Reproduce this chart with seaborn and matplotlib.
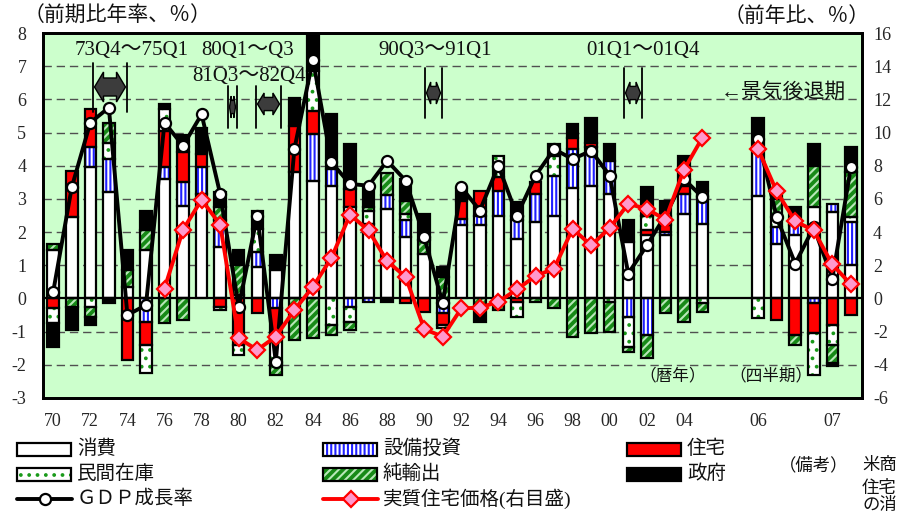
import numpy as np
import pandas as pd
import matplotlib
matplotlib.use("Agg")
import matplotlib.pyplot as plt
from matplotlib.patches import Rectangle, Polygon
import seaborn as sns

# ---------------------------------------------------------------- data
# annual 1970-2005, then quarterly 2006Q1-2007Q2 (after a two-slot gap)
periods = [str(y) for y in range(1970, 2006)] + [
    "2006Q1", "2006Q2", "2006Q3", "2006Q4", "2007Q1", "2007Q2"]
slot = list(range(36)) + list(range(38, 44))

# contributions to real GDP growth (% points, annualised)
consumption = [1.45, 2.45, 3.95, 3.2, 0.35, 1.45, 3.6, 2.8, 3.15, 1.55,
               0.1, 0.95, 0.85, 3.8, 3.55, 3.4, 2.75, 2.25, 2.7, 1.85,
               1.35, -0.15, 2.2, 2.2, 2.5, 1.8, 2.3, 2.5, 3.33, 3.4,
               3.15, 1.7, 1.9, 1.9, 2.55, 2.25,
               3.1, 1.65, 1.9, 2.75, 2.6, 1.0]
investment = [0, 0, 0.6, 1.0, 0, -0.7, 0.35, 0.72, 0.8, 0.8,
              0, 0.45, -0.3, 0, 1.4, 0.5, -0.25, -0.12, 0.42, 0.5,
              0, -0.3, 0.2, 0.3, 0.75, 0.55, 0.85, 1.2, 1.17, 1.15,
              1.0, -0.55, -1.1, 0.1, 0.6, 0.85,
              1.4, 0.5, 0.3, -0.15, 0.25, 1.3]
housing = [-0.3, 1.4, 1.15, 0, -1.85, -0.7, 1.1, 0.9, 0.4, -0.25,
           -1.4, -0.45, -0.8, 1.4, 0.7, 0, 0.55, 0, 0, -0.15,
           -0.4, -0.35, 0.55, 0.75, 0.4, -0.12, 0.35, 0, 0.35, 0.15,
           0, 0, 0.15, 0.2, 0.25, 0.15,
           0, -0.65, -1.1, -0.9, -0.8, -0.5]
inventory = [-0.45, 0, -0.25, 0.5, 0, -0.85, 0.65, 0, 0, -0.1,
             -0.3, 0.7, -0.9, 0, 1.2, -0.8, -0.45, 0.4, 0, 0.2,
             0, -0.1, 0, 0, 0.65, -0.43, 0, 0.6, 0, 0,
             -0.1, -0.9, 0.45, 0, 0, -0.15,
             -0.6, 0.3, 0, -1.25, -0.6, 0.15]
net_exports = [0.2, -0.25, -0.3, 0.6, 0.5, 0.62, -0.75, -0.65, 0, 0.4,
               0.9, 0, -0.3, -1.25, -1.2, -0.3, -0.25, 0.1, 0.65, 0.4,
               0.4, 0.65, 0, -0.3, -0.35, 0.15, -0.1, -0.3, -1.15, -1.05,
               -0.9, -0.15, -0.7, -0.45, -0.7, -0.25,
               0, 0.55, -0.3, 1.25, -0.55, 1.35]
government = [-0.7, -0.7, -0.25, -0.15, 0.6, 0.58, 0.15, 0.5, 0.8, 0.45,
              0.45, 0.55, 0.45, 0.85, 1.15, 1.65, 1.35, 0.65, -0.12, 0.65,
              0.8, 0.3, 0.35, -0.4, 0, 0.4, 0, 0.35, 0.4, 0.75,
              0.5, 0.65, 0.85, 0.75, 0.9, 0.25,
              0.95, 0.3, 0.55, 0.65, -0.1, 0.75]

# real GDP growth (%)
gdp_growth = [0.2, 3.35, 5.3, 5.75, -0.5, -0.2, 5.3, 4.6, 5.55, 3.15,
              -0.25, 2.5, -1.9, 4.5, 7.2, 4.1, 3.45, 3.4, 4.15, 3.55,
              1.85, -0.15, 3.35, 2.65, 4.0, 2.5, 3.7, 4.5, 4.2, 4.45,
              3.7, 0.75, 1.6, 2.5, 3.6, 3.05,
              4.8, 2.45, 1.05, 2.15, 0.6, 3.95]

# real house prices, year-on-year (%), right scale; series starts in 1976
house_price = [np.nan] * 6 + [
    0.6, 4.15, 5.95, 4.45, -2.4, -3.1, -2.3, -0.7, 0.7, 2.45,
    5.05, 4.1, 2.25, 1.3, -1.85, -2.3, -0.6, -0.55, -0.2, 0.55,
    1.35, 1.8, 4.2, 3.2, 4.25, 5.7, 5.4, 4.75, 7.75, 9.7,
    9.0, 6.45, 4.65, 4.1, 2.05, 0.85]

tick_slots = list(range(0, 36, 2)) + [38, 42]
tick_labels = ["70", "72", "74", "76", "78", "80", "82", "84", "86", "88",
               "90", "92", "94", "96", "98", "00", "02", "04", "06", "07"]

# ---------------------------------------------------------------- style
sns.set_theme(style="white")
plt.rcParams["font.family"] = ["Liberation Serif", "Noto Sans CJK JP"]
plt.rcParams["axes.unicode_minus"] = False
plt.rcParams["hatch.linewidth"] = 1.5

W, H = 899, 515
L, R, T, B = 43, 862, 33, 398
fig = plt.figure(figsize=(W / 100, H / 100), dpi=100)
fig.patch.set_facecolor("white")
ax = fig.add_axes([L / W, 1 - B / H, (R - L) / W, (B - T) / H])
ax.set_facecolor("#CCFFCC")

BAR_W = 0.62
EDGE = 1.6
slot_arr = np.array(slot, dtype=float)

components = [
    ("消費", consumption, "white", None, None),
    ("設備投資", investment, "white", "||||", "#2020ff"),
    ("住宅", housing, "#ff0000", None, None),
    ("民間在庫", inventory, "white", "..", "#1a9a1a"),
    ("純輸出", net_exports, "#178a17", "////", "#b8e8b8"),
    ("政府", government, "black", None, None),
]


def draw_layer(values, bottoms, face, hatch, hatch_color):
    m = values != 0
    if not m.any():
        return
    x = slot_arr[m]
    uniq = np.unique(x)
    native = np.diff(uniq).min() if len(uniq) > 1 else 1.0
    df = pd.DataFrame({"slot": x, "value": values[m]})
    common = dict(data=df, x="slot", y="value", native_scale=True,
                  width=BAR_W / native, errorbar=None, saturation=1,
                  bottom=bottoms[m], ax=ax)
    sns.barplot(**common, color=face, edgecolor=hatch_color or face,
                hatch=hatch, linewidth=0, zorder=2)
    sns.barplot(**common, color="black", fill=False, linewidth=EDGE,
                zorder=2.2)


pos_base = np.zeros(len(slot))
neg_base = np.zeros(len(slot))
for name, vals, face, hatch, hcol in components:
    v = np.asarray(vals, dtype=float)
    base = np.where(v >= 0, pos_base, neg_base)
    draw_layer(v, base, face, hatch, hcol)
    pos_base += np.clip(v, 0, None)
    neg_base += np.clip(v, None, 0)

# grid and zero line
for g in [-2, -1, 1, 2, 3, 4, 5, 6, 7]:
    ax.axhline(g, color="#505050", lw=1.0, ls=(0, (6, 3.5)), zorder=1)
ax.axhline(0, color="black", lw=1.6, zorder=2.5)

# GDP growth line (annual and quarterly drawn separately)
gdp_df = pd.DataFrame({"slot": slot, "gdp": gdp_growth})
line_kw = dict(color="black", lw=2.8, marker="o", markersize=8,
               markerfacecolor="white", markeredgecolor="black",
               markeredgewidth=1.6, estimator=None, sort=False, ax=ax,
               zorder=5)
sns.lineplot(data=gdp_df[gdp_df.slot < 36], x="slot", y="gdp", **line_kw)
sns.lineplot(data=gdp_df[gdp_df.slot > 36], x="slot", y="gdp", **line_kw)

ax.set_xlim(-0.55, 43.6)
ax.set_ylim(-3, 8)
ax.set_yticks(range(-3, 9))
ax.set_yticklabels([str(t) for t in range(-3, 9)])
ax.set_xticks(tick_slots)
ax.set_xticklabels(tick_labels)
ax.tick_params(axis="y", length=0, pad=12, labelsize=13)
ax.tick_params(axis="x", length=0, pad=11, labelsize=13)
ax.set_xlabel("")
ax.set_ylabel("")

# real house prices on the right scale
ax2 = ax.twinx()
hp_df = pd.DataFrame({"slot": slot, "hp": house_price}).dropna()
hp_kw = dict(color="#ff0000", lw=2.8, marker="D", markersize=8,
             markerfacecolor="#ff99cc", markeredgecolor="#ff0000",
             markeredgewidth=1.6, estimator=None, sort=False, ax=ax2,
             zorder=6)
sns.lineplot(data=hp_df[hp_df.slot < 36], x="slot", y="hp", **hp_kw)
sns.lineplot(data=hp_df[hp_df.slot > 36], x="slot", y="hp", **hp_kw)
ax2.set_ylim(-6, 16)
ax2.set_yticks(range(-6, 17, 2))
ax2.set_yticklabels([str(t) for t in range(-6, 17, 2)])
ax2.tick_params(axis="y", length=0, pad=8, labelsize=13)
ax2.set_ylabel("")
ax2.set_xlim(-0.55, 43.6)

for a in (ax, ax2):
    for s in a.spines.values():
        s.set_color("black")
        s.set_linewidth(2.0)

# ---------------------------------------------------------------- overlay (pixel coordinates)
ov = fig.add_axes([0, 0, 1, 1])
ov.set_xlim(0, W)
ov.set_ylim(H, 0)
ov.axis("off")


def ptext(x, y, s, size=15, ha="center"):
    ov.text(x, y, s, fontsize=size, ha=ha, va="center", color="#111111")


ptext(117, 17, "（前期比年率、％）")
ptext(797, 17, "（前年比、％）")
ptext(132, 51, "73Q4～75Q1")
ptext(248, 51, "80Q1～Q3")
ptext(249, 76, "81Q3～82Q4")
ptext(435, 51, "90Q3～91Q1")
ptext(643, 51, "01Q1～01Q4")
ptext(783, 93, "←景気後退期")
ptext(673, 376, "（暦年）", size=12)
ptext(771, 376, "（四半期）", size=12)


def recession(x0, x1, y0, y1, yc, hh):
    for xx in (x0, x1):
        ov.plot([xx, xx], [y0, y1], color="black", lw=1.3)
    a, b = x0 + 1.5, x1 - 1.5
    head = min((b - a) * 0.3, 9)
    pts = [(a, yc), (a + head, yc - hh), (a + head, yc - hh * 0.6),
           (b - head, yc - hh * 0.6), (b - head, yc - hh), (b, yc),
           (b - head, yc + hh), (b - head, yc + hh * 0.6),
           (a + head, yc + hh * 0.6), (a + head, yc + hh)]
    ov.add_patch(Polygon(pts, closed=True, facecolor="#3c3c3c",
                         edgecolor="black", lw=1.0))


recession(93, 127, 63, 112, 87, 15)
recession(228, 237, 86, 128, 107, 11)
recession(256, 281, 86, 128, 104, 11)
recession(425, 442, 68, 118, 93, 11)
recession(624, 642, 68, 118, 93, 11)

# legend
rows = [449, 474, 499]
cols = [17, 323, 627]
LEG_FS = 14


def legend_box(x, y, face, hatch=None, hcol=None):
    ov.add_patch(Rectangle((x, y - 6.5), 54, 13, facecolor=face,
                           edgecolor=hcol or face, hatch=hatch, lw=0))
    ov.add_patch(Rectangle((x, y - 6.5), 54, 13, facecolor="none",
                           edgecolor="black", lw=1.6))


grid_pos = [(cols[0], rows[0]), (cols[1], rows[0]), (cols[2], rows[0]),
            (cols[0], rows[1]), (cols[1], rows[1]), (cols[2], rows[1])]
for (name, vals, face, hatch, hcol), (x, y) in zip(components, grid_pos):
    legend_box(x, y, face, hatch, hcol)
    ptext(x + 60, y, name, size=LEG_FS, ha="left")

ov.plot([cols[0], cols[0] + 55], [rows[2], rows[2]], color="black", lw=2.8)
ov.plot([cols[0] + 27.5], [rows[2]], marker="o", markersize=8,
        markerfacecolor="white", markeredgecolor="black", markeredgewidth=1.6)
ptext(cols[0] + 60, rows[2], "ＧＤＰ成長率", size=LEG_FS, ha="left")
ov.plot([cols[1], cols[1] + 55], [rows[2], rows[2]], color="#ff0000", lw=2.8)
ov.plot([cols[1] + 27.5], [rows[2]], marker="D", markersize=8,
        markerfacecolor="#ff99cc", markeredgecolor="#ff0000",
        markeredgewidth=1.6)
ptext(cols[1] + 60, rows[2], "実質住宅価格(右目盛)", size=LEG_FS, ha="left")

# source note at the lower right
ptext(779, 466, "（備考）", size=12.5, ha="left")
ptext(862, 466, "米商", size=12.5, ha="left")
ptext(862, 489, "住宅", size=12.5, ha="left")
ptext(862, 506, "の消", size=12.5, ha="left")

fig.savefig("out.png", dpi=100)
